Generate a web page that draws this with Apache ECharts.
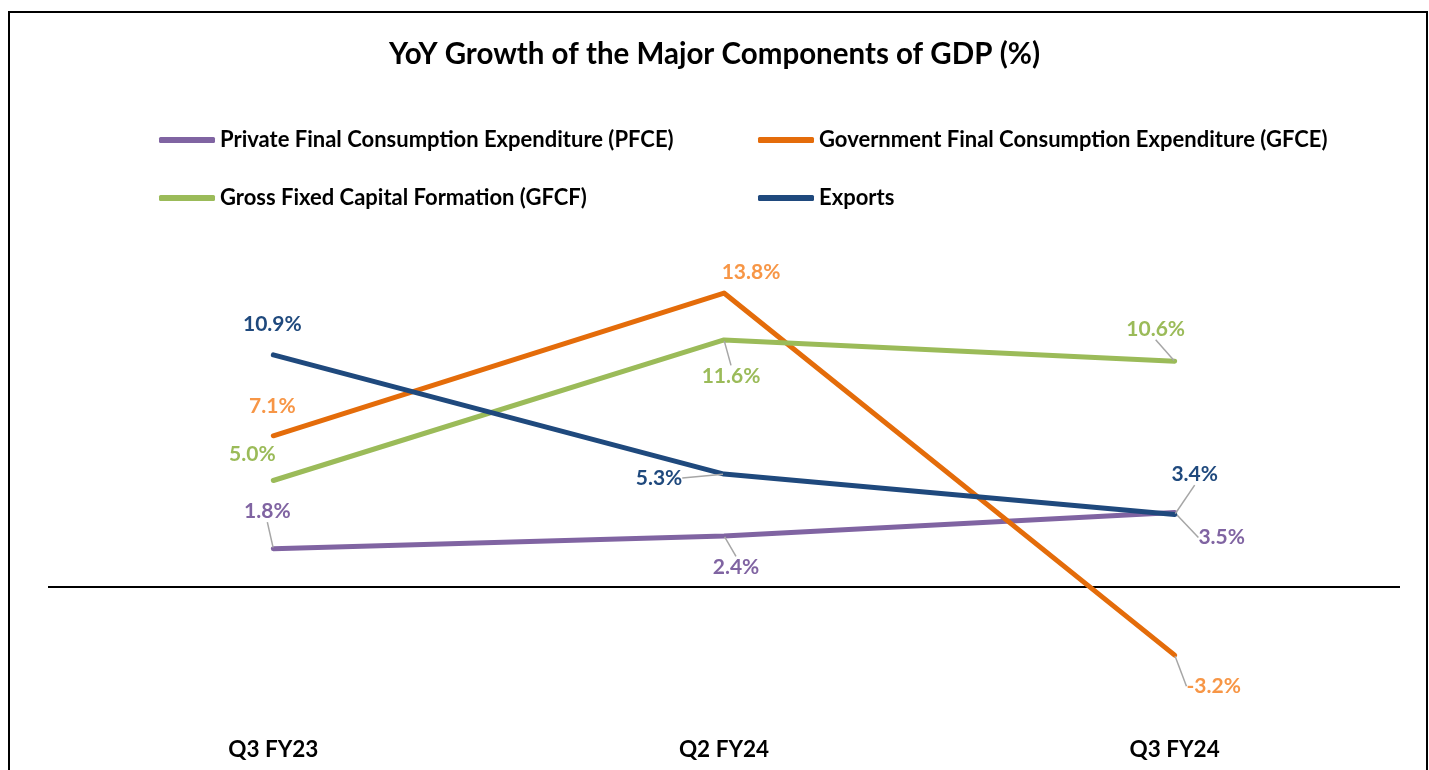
<!DOCTYPE html>
<html>
<head>
<meta charset="utf-8">
<script src="https://cdn.jsdelivr.net/npm/echarts@6/dist/echarts.min.js"></script>
<style>
  html, body { margin: 0; padding: 0; background: #fff; }
  #chart { width: 1429px; height: 770px; }
</style>
</head>
<body>
<div id="chart"></div>
<script>
// data
const quarters = ['Q3 FY23', 'Q2 FY24', 'Q3 FY24'];
const pfce = [1.8, 2.4, 3.5];
const gfce = [7.1, 13.8, -3.2];
const gfcf = [5.0, 11.6, 10.6];
const exportsVals = [10.9, 5.3, 3.4];

const seriesNames = [
    'Private Final Consumption Expenditure (PFCE)',
    'Government Final Consumption Expenditure (GFCE)',
    'Gross Fixed Capital Formation (GFCF)',
    'Exports'
];

// label placement, offset from the point in px: [dx, dy, leader line?]
const labelPlace = [
    [[-6, -37, true], [12, 31, true], [47, 25, true]],
    [[-1, -30, false], [27, -21, false], [39, 31, true]],
    [[-21, -26, false], [7, 36, true], [-19, -32, true]],
    [[-1, -31, false], [-65, 4, true], [20, -40, true]]
];

const lineColors = ['#8064A2', '#E46C0A', '#9BBB59', '#1F497D'];
const labelColors = ['#8064A2', '#F79646', '#9BBB59', '#1F497D'];
const font = 'Lato, "Open Sans", sans-serif';

const allValues = [pfce, gfce, gfcf, exportsVals];

function makeSeries(idx) {
    const vals = allValues[idx];
    const s = {
        name: seriesNames[idx],
        type: 'line',
        data: vals.map((v, i) => ({
            value: v,
            labelLine: { show: labelPlace[idx][i][2] }
        })),
        symbol: 'circle',
        symbolSize: 2,
        showSymbol: true,
        itemStyle: { color: lineColors[idx] },
        lineStyle: { color: lineColors[idx], width: 5, cap: 'round', join: 'round' },
        label: {
            show: true,
            position: 'inside',
            formatter: p => p.value.toFixed(1) + '%',
            color: labelColors[idx],
            fontFamily: font,
            fontWeight: 'bold',
            fontSize: 21
        },
        labelLine: { show: false, lineStyle: { color: '#A6A6A6', width: 1.5 } },
        labelLayout: function (params) {
            const pl = labelPlace[idx][params.dataIndex];
            return {
                x: params.rect.x + params.rect.width / 2 + pl[0],
                y: params.rect.y + params.rect.height / 2 + pl[1],
                align: 'center',
                verticalAlign: 'middle'
            };
        },
        emphasis: { disabled: true },
        z: 3 + idx
    };
    if (idx === 0) {
        s.markLine = {
            silent: true,
            symbol: 'none',
            label: { show: false },
            lineStyle: { color: '#000', width: 2, type: 'solid' },
            data: [{ yAxis: 0 }],
            z: 1
        };
    }
    return s;
}

// legend positions (column layout, two rows)
const legendPos = [[154, 124], [753, 124], [154, 182], [753, 182]];

const chart = echarts.init(document.getElementById('chart'));
chart.setOption({
    animation: false,
    backgroundColor: '#fff',
    title: {
        text: 'YoY Growth of the Major Components of GDP (%)',
        left: 'center',
        top: 34,
        textStyle: { fontFamily: font, fontWeight: 'bold', fontSize: 29.5, color: '#000' }
    },
    legend: seriesNames.map((n, i) => ({
        data: [n],
        left: legendPos[i][0],
        top: legendPos[i][1],
        icon: 'roundRect',
        itemWidth: 56,
        itemHeight: 6,
        itemGap: 0,
        selectedMode: false,
        textStyle: { fontFamily: font, fontWeight: 'bold', fontSize: 22, color: '#000' }
    })),
    graphic: [{
        type: 'rect',
        shape: { x: 9, y: 12, width: 1418, height: 800 },
        style: { fill: 'none', stroke: '#000', lineWidth: 2 },
        silent: true
    }],
    grid: { left: 48, right: 29, top: 267.5, bottom: 76.5 },
    xAxis: {
        type: 'category',
        data: quarters,
        boundaryGap: true,
        axisLine: { show: false, onZero: false },
        axisTick: { show: false },
        axisLabel: {
            margin: 45,
            fontFamily: font,
            fontWeight: 'bold',
            fontSize: 22.5,
            color: '#000'
        }
    },
    yAxis: {
        type: 'value',
        min: -5,
        max: 15,
        show: false,
        splitLine: { show: false }
    },
    series: [0, 1, 2, 3].map(makeSeries)
});
</script>
</body>
</html>
